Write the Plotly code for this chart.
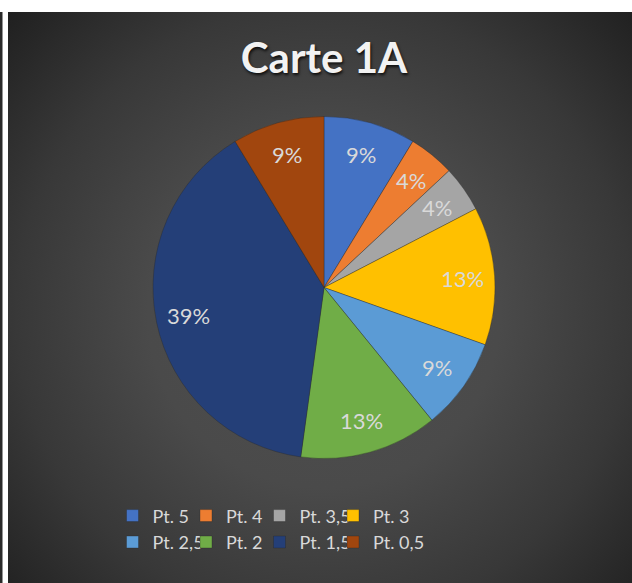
import base64
import math
import plotly.graph_objects as go

# ---- data ----
labels = ["Pt. 5", "Pt. 4", "Pt. 3,5", "Pt. 3", "Pt. 2,5", "Pt. 2", "Pt. 1,5", "Pt. 0,5"]
values = [2, 1, 1, 3, 2, 3, 9, 2]
colors = ["#4472C4", "#ED7D31", "#A5A5A5", "#FFC000", "#5B9BD5", "#70AD47", "#243F78", "#A1460E"]
title_text = "Carte 1A"

W, H = 632, 583
ML, MR, MT, MB = 149, 133, 116, 124
PW, PH = W - ML - MR, H - MT - MB

# pie geometry (page pixels)
CX, CY = 324, 116 + PH / 2
R = 171


def px_x(x):
    return (x - ML) / PW


def px_y(y):
    return (H - MB - y) / PH


# radial gradient background (SVG data URI)
bg_w, bg_h = 624, 571
svg = f'''<svg xmlns="http://www.w3.org/2000/svg" width="{bg_w}" height="{bg_h}">
<defs><radialGradient id="g" gradientUnits="userSpaceOnUse" cx="316" cy="300" r="440">
<stop offset="0" stop-color="#4f4f4f"/>
<stop offset="0.4" stop-color="#4a4a4a"/>
<stop offset="0.7" stop-color="#383838"/>
<stop offset="1" stop-color="#1f1f1f"/>
</radialGradient></defs>
<rect width="{bg_w}" height="{bg_h}" fill="url(#g)"/></svg>'''
src = "data:image/svg+xml;base64," + base64.b64encode(svg.encode()).decode()

font = "Lato, 'Open Sans', sans-serif"

fig = go.Figure(go.Pie(
    labels=labels,
    values=values,
    sort=False,
    direction="clockwise",
    rotation=0,
    marker=dict(colors=colors, line=dict(color="rgba(40,40,40,0.6)", width=0.6)),
    textinfo="none",
    domain=dict(x=[px_x(CX - R), px_x(CX + R)], y=[0, 1]),
    hoverinfo="label+value+percent",
))

# data labels placed on each slice's bisector (like Excel's labels)
total = sum(values)
annotations = []
cum = 0
for v in values:
    mid = (cum + v / 2) / total * 2 * math.pi
    cum += v
    lx = CX + 0.81 * R * math.sin(mid)
    ly = CY - 0.81 * R * math.cos(mid)
    annotations.append(dict(
        text=f"{round(100 * v / total)}%", x=px_x(lx), y=px_y(ly),
        xref="paper", yref="paper", showarrow=False,
        xanchor="center", yanchor="middle",
        font=dict(family=font, size=22, color="#d9d9d9"),
    ))

fig.update_layout(
    width=W, height=H,
    margin=dict(l=ML, r=MR, t=MT, b=MB, pad=0),
    paper_bgcolor="white",
    plot_bgcolor="rgba(0,0,0,0)",
    annotations=annotations,
    title=dict(
        text=f"<b>{title_text}</b>",
        x=324 / W, xanchor="center",
        y=1 - 58 / H, yanchor="middle",
        xref="container", yref="container",
        font=dict(family=font, size=42, color="#f2f2f2", shadow="1px 2px 3px rgba(0,0,0,0.8)"),
    ),
    showlegend=True,
    legend=dict(
        orientation="h",
        x=px_x(276), xanchor="center",
        y=px_y(561), yanchor="bottom",
        entrywidth=28.5, entrywidthmode="pixels",
        itemwidth=30,
        font=dict(family=font, size=18, color="#d9d9d9"),
        title=dict(text="&nbsp;" * 70, side="top",
                   font=dict(family=font, size=18, color="rgba(0,0,0,0)")),
        bgcolor="rgba(0,0,0,0)",
        traceorder="normal",
    ),
    images=[dict(
        source=src, xref="paper", yref="paper",
        x=px_x(8), y=px_y(12), sizex=bg_w / PW, sizey=bg_h / PH,
        xanchor="left", yanchor="top", sizing="stretch", layer="below",
    )],
    shapes=[dict(
        type="rect", xref="paper", yref="paper",
        x0=px_x(0), x1=px_x(2.5), y0=px_y(583), y1=px_y(12),
        fillcolor="#2a2a2a", line=dict(width=0), layer="below",
    )],
)

fig.write_html(
    "out.html",
    config={"displayModeBar": False},
    post_script="document.body.style.margin='0';document.body.style.overflow='hidden';",
)
